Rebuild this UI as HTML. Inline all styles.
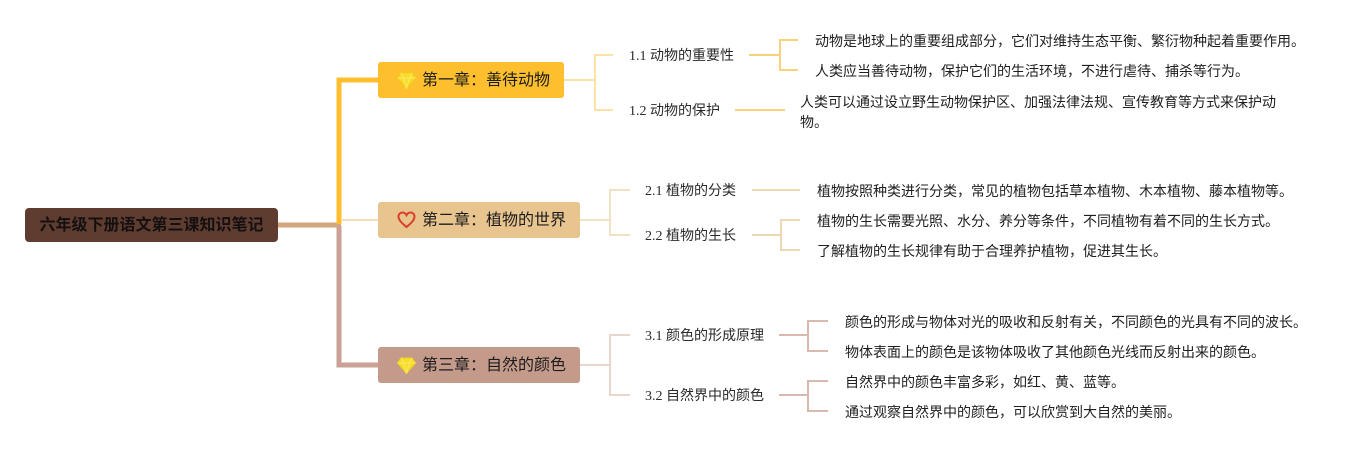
<!DOCTYPE html>
<html>
<head>
<meta charset="utf-8">
<style>
  html, body { margin:0; padding:0; background:#ffffff; }
  body { width:1366px; height:450px; position:relative; overflow:hidden; }
  svg.lines { position:absolute; left:0; top:0; }
  .box { position:absolute; border-radius:3px; }
  .t { position:absolute; white-space:nowrap; line-height:20px; }
  .root { font-family:"Liberation Sans","Noto Sans CJK SC",sans-serif; font-weight:bold; font-size:16px; color:#151010; }
  .ch { font-family:"Liberation Sans","Noto Sans CJK SC",sans-serif; font-size:16px; color:#1c1c1c; }
  .sub { font-family:"Liberation Serif","Noto Sans CJK SC",serif; font-size:14px; color:#2a2a2a; }
  .leaf { font-family:"Liberation Sans","Noto Sans CJK SC",sans-serif; font-size:14px; color:#1e1e1e; }
</style>
</head>
<body>
<svg class="lines" width="1366" height="450" viewBox="0 0 1366 450">
  <line x1="276" y1="225" x2="341" y2="225" stroke="#d3a67e" stroke-width="5"/>
  <polyline points="339,224 339,80 380,80" fill="none" stroke="#fdbf2d" stroke-width="5"/>
  <polyline points="339,226 339,365 380,365" fill="none" stroke="#caa194" stroke-width="5"/>
  <line x1="341" y1="220" x2="380" y2="220" stroke="#f3dcb8" stroke-width="2"/>

  <g fill="none" stroke="#fbe2a6" stroke-width="2">
    <line x1="564" y1="80" x2="595" y2="80"/>
    <polyline points="613,55 595,55 595,110 613,110"/>
  </g>
  <g fill="none" stroke="#f8d27a" stroke-width="2">
    <line x1="749" y1="55" x2="780" y2="55"/>
    <polyline points="798,40 780,40 780,70 798,70"/>
    <line x1="735" y1="110" x2="785" y2="110"/>
  </g>

  <g fill="none" stroke="#f3e1c6" stroke-width="2">
    <line x1="580" y1="220" x2="610" y2="220"/>
    <polyline points="630,190 610,190 610,235 630,235"/>
  </g>
  <g fill="none" stroke="#efd6b2" stroke-width="2">
    <line x1="752" y1="190" x2="800" y2="190"/>
    <line x1="752" y1="235" x2="781" y2="235"/>
    <polyline points="800,220 781,220 781,250 800,250"/>
  </g>

  <g fill="none" stroke="#e8d5ce" stroke-width="2">
    <line x1="580" y1="365" x2="610" y2="365"/>
    <polyline points="630,335 610,335 610,395 630,395"/>
  </g>
  <g fill="none" stroke="#d9b8ae" stroke-width="2">
    <line x1="779" y1="335" x2="808" y2="335"/>
    <polyline points="828,321 808,321 808,351 828,351"/>
    <line x1="779" y1="395" x2="808" y2="395"/>
    <polyline points="828,381 808,381 808,411 828,411"/>
  </g>
</svg>

<div class="box" style="left:25px;top:208px;width:253px;height:34px;background:#5f3c30;border-radius:4px;"></div>
<div class="t root" style="left:25px;top:216px;width:253px;text-align:center;">六年级下册语文第三课知识笔记</div>

<div class="box" style="left:378px;top:62px;width:186px;height:36px;background:#fdbf2d;"></div>
<div class="box" style="left:378px;top:202px;width:202px;height:36px;background:#e8c48f;"></div>
<div class="box" style="left:378px;top:347px;width:202px;height:36px;background:#c49a8b;"></div>

<svg style="position:absolute;left:397px;top:72px;" width="19" height="17" viewBox="0 0 19 17">
  <polygon points="4,1 15,1 18.5,6 9.5,16.5 0.5,6" fill="#f7dc2a" stroke="#f1cf10" stroke-width="1"/>
  <polyline points="0.5,6 18.5,6" fill="none" stroke="#fbe96a" stroke-width="1"/>
  <polyline points="4,1 6.5,6 9.5,16.5 12.5,6 15,1" fill="none" stroke="#fbe96a" stroke-width="1"/>
</svg>
<svg style="position:absolute;left:397px;top:211px;" width="19" height="18" viewBox="0 0 19 18">
  <path d="M9.5,16 C6,13 1.5,9.5 1.5,5.5 C1.5,3 3.5,1.5 5.5,1.5 C7.5,1.5 8.8,2.8 9.5,4.2 C10.2,2.8 11.5,1.5 13.5,1.5 C15.5,1.5 17.5,3 17.5,5.5 C17.5,9.5 13,13 9.5,16 Z" fill="none" stroke="#d8402a" stroke-width="2"/>
</svg>
<svg style="position:absolute;left:397px;top:357px;" width="19" height="17" viewBox="0 0 19 17">
  <polygon points="4,1 15,1 18.5,6 9.5,16.5 0.5,6" fill="#f7dc2a" stroke="#f1cf10" stroke-width="1"/>
  <polyline points="0.5,6 18.5,6" fill="none" stroke="#fbe96a" stroke-width="1"/>
  <polyline points="4,1 6.5,6 9.5,16.5 12.5,6 15,1" fill="none" stroke="#fbe96a" stroke-width="1"/>
</svg>

<div class="t ch" style="left:422px;top:71px;">第一章：善待动物</div>
<div class="t ch" style="left:422px;top:211px;">第二章：植物的世界</div>
<div class="t ch" style="left:422px;top:356px;">第三章：自然的颜色</div>

<div class="t sub" style="left:629px;top:47px;">1.1 动物的重要性</div>
<div class="t sub" style="left:629px;top:102px;">1.2 动物的保护</div>
<div class="t sub" style="left:645px;top:182px;">2.1 植物的分类</div>
<div class="t sub" style="left:645px;top:227px;">2.2 植物的生长</div>
<div class="t sub" style="left:645px;top:327px;">3.1 颜色的形成原理</div>
<div class="t sub" style="left:645px;top:387px;">3.2 自然界中的颜色</div>

<div class="t leaf" style="left:815px;top:31px;">动物是地球上的重要组成部分，它们对维持生态平衡、繁衍物种起着重要作用。</div>
<div class="t leaf" style="left:815px;top:61px;">人类应当善待动物，保护它们的生活环境，不进行虐待、捕杀等行为。</div>
<div class="t leaf" style="left:800px;top:92px;">人类可以通过设立野生动物保护区、加强法律法规、宣传教育等方式来保护动<br>物。</div>

<div class="t leaf" style="left:817px;top:181px;">植物按照种类进行分类，常见的植物包括草本植物、木本植物、藤本植物等。</div>
<div class="t leaf" style="left:817px;top:211px;">植物的生长需要光照、水分、养分等条件，不同植物有着不同的生长方式。</div>
<div class="t leaf" style="left:817px;top:241px;">了解植物的生长规律有助于合理养护植物，促进其生长。</div>

<div class="t leaf" style="left:845px;top:312px;">颜色的形成与物体对光的吸收和反射有关，不同颜色的光具有不同的波长。</div>
<div class="t leaf" style="left:845px;top:342px;">物体表面上的颜色是该物体吸收了其他颜色光线而反射出来的颜色。</div>
<div class="t leaf" style="left:845px;top:372px;">自然界中的颜色丰富多彩，如红、黄、蓝等。</div>
<div class="t leaf" style="left:845px;top:402px;">通过观察自然界中的颜色，可以欣赏到大自然的美丽。</div>
</body>
</html>
